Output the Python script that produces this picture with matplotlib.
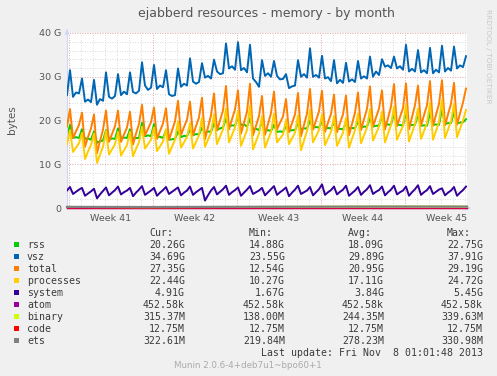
#!/usr/bin/env python3
"""Munin style chart: ejabberd memory usage over one month."""

import numpy as np
import matplotlib

matplotlib.use("Agg")
import matplotlib.pyplot as plt
from matplotlib.patches import Rectangle

# --- data (GB, four samples per day: before, spike, drop, mid) ---
rss = [
    16.2, 19.0, 16.0, 16.2, 16.0, 18.0, 15.8, 15.9, 15.6, 17.5, 14.9, 15.3, 15.4, 17.8, 15.6, 15.9,
    15.8, 18.2, 16.0, 16.1, 16.0, 18.0, 15.8, 16.0, 16.0, 19.5, 16.4, 16.6, 16.4, 19.2, 16.2, 16.3,
    16.0, 17.8, 15.6, 15.7, 15.8, 17.5, 16.2, 16.5, 16.4, 18.0, 16.6, 16.9, 16.8, 18.4, 17.2, 17.5,
    17.4, 19.4, 17.8, 18.2, 18.4, 20.4, 18.6, 18.9, 18.8, 21.0, 19.0, 19.1, 18.6, 20.4, 18.0, 18.1,
    17.8, 19.8, 17.6, 17.8, 17.6, 19.0, 17.4, 17.5, 17.4, 18.8, 17.6, 17.8, 17.8, 19.4, 18.0, 18.2,
    18.2, 20.0, 18.4, 18.5, 18.4, 19.8, 18.2, 18.3, 18.2, 19.6, 18.0, 18.1, 18.0, 19.4, 18.2, 18.3,
    18.2, 19.8, 18.4, 18.6, 18.6, 20.6, 18.6, 18.8, 18.8, 21.0, 19.0, 19.1, 19.0, 21.6, 19.0, 19.0,
    18.8, 22.0, 18.8, 19.0, 19.0, 21.4, 18.8, 18.9, 18.8, 21.8, 19.0, 19.1, 19.0, 22.7, 19.2, 19.4,
    19.4, 22.0, 19.4, 19.5, 19.6, 20.3,
]
vsz = [
    25.8, 31.5, 25.4, 26.4, 26.2, 29.6, 24.3, 24.8, 24.2, 29.3, 23.6, 24.9, 24.5, 31.0, 25.4, 25.0,
    25.6, 30.6, 25.8, 26.6, 26.0, 31.0, 26.5, 26.2, 26.8, 33.3, 28.0, 27.0, 27.5, 32.7, 27.2, 28.0,
    27.6, 31.5, 26.0, 25.6, 25.8, 31.9, 27.7, 28.4, 28.0, 34.2, 28.9, 28.4, 28.8, 33.1, 29.8, 30.2,
    29.6, 33.9, 31.2, 30.6, 30.8, 37.6, 31.9, 32.4, 31.6, 37.9, 31.5, 32.0, 31.0, 37.3, 29.6, 28.8,
    27.7, 33.8, 30.2, 30.8, 30.0, 33.6, 30.2, 29.4, 29.5, 30.6, 27.4, 27.8, 28.0, 33.8, 30.0, 30.6,
    29.8, 36.5, 30.0, 30.4, 29.8, 34.8, 29.6, 29.9, 29.0, 33.8, 28.5, 29.3, 28.6, 33.2, 28.9, 29.4,
    28.8, 33.6, 29.6, 30.1, 29.6, 34.6, 30.0, 31.2, 30.4, 34.0, 32.3, 32.6, 32.0, 34.6, 31.9, 32.4,
    31.6, 37.3, 31.2, 31.8, 31.2, 36.1, 31.0, 31.5, 30.8, 36.6, 30.8, 31.6, 31.0, 37.1, 31.2, 32.0,
    31.4, 36.9, 31.9, 32.6, 32.2, 34.7,
]
total = [
    18.6, 22.6, 16.0, 17.5, 19.0, 21.8, 14.0, 16.2, 18.2, 21.4, 12.5, 15.3, 17.9, 22.3, 15.1, 16.9,
    18.7, 22.3, 15.1, 16.8, 18.4, 22.0, 14.5, 17.0, 19.2, 23.6, 16.6, 18.1, 19.6, 23.0, 15.8, 17.6,
    19.3, 22.8, 15.6, 17.7, 19.8, 24.5, 16.7, 18.5, 20.2, 24.3, 16.6, 18.7, 20.7, 25.2, 15.7, 18.5,
    21.2, 26.2, 17.7, 20.0, 22.3, 27.9, 18.0, 20.3, 22.5, 26.9, 17.0, 19.5, 22.0, 28.4, 16.6, 18.8,
    21.0, 25.6, 16.7, 19.2, 21.7, 26.6, 18.0, 19.5, 20.9, 24.9, 17.3, 19.4, 21.4, 26.3, 16.4, 19.0,
    21.6, 27.2, 17.9, 20.0, 22.1, 26.8, 17.4, 19.5, 21.5, 25.9, 17.3, 19.4, 21.4, 25.7, 16.6, 19.2,
    21.8, 26.4, 17.8, 20.3, 22.7, 27.8, 18.6, 20.7, 22.7, 26.9, 17.9, 20.6, 23.2, 28.3, 18.7, 20.8,
    22.8, 28.5, 18.0, 20.8, 23.5, 28.0, 18.8, 21.2, 23.5, 29.0, 18.8, 21.3, 23.8, 29.2, 18.9, 21.4,
    23.8, 28.6, 19.0, 21.6, 24.1, 27.3,
]
processes = [
    14.6, 17.8, 12.8, 13.8, 14.8, 17.2, 11.2, 12.9, 14.4, 17.0, 10.3, 12.2, 14.0, 17.6, 12.2, 13.4,
    14.6, 17.4, 12.0, 13.2, 14.4, 17.4, 11.8, 13.5, 15.0, 18.6, 13.6, 14.6, 15.6, 18.4, 13.0, 14.1,
    15.2, 18.0, 12.4, 14.0, 15.6, 19.8, 13.8, 15.0, 16.2, 19.4, 13.6, 15.1, 16.6, 20.6, 14.0, 15.6,
    17.2, 21.4, 14.6, 16.3, 18.0, 22.8, 15.0, 16.7, 18.4, 22.2, 14.2, 16.0, 17.8, 23.4, 13.4, 15.2,
    17.0, 21.0, 13.8, 15.6, 17.4, 21.6, 15.0, 15.9, 16.8, 20.2, 14.6, 15.9, 17.2, 21.2, 13.2, 15.4,
    17.6, 22.4, 15.0, 16.4, 17.8, 21.4, 14.4, 15.9, 17.4, 21.0, 14.2, 15.7, 17.2, 20.6, 13.8, 15.8,
    17.8, 21.6, 14.8, 16.6, 18.4, 22.6, 15.4, 17.0, 18.6, 22.0, 15.0, 17.0, 19.0, 23.2, 15.6, 17.2,
    18.8, 23.6, 15.2, 17.2, 19.2, 22.8, 15.8, 17.6, 19.4, 24.0, 15.6, 17.6, 19.6, 24.7, 16.0, 17.9,
    19.8, 23.8, 16.2, 18.1, 20.0, 22.4,
]
system = [
    4.0, 4.8, 3.2, 3.7, 4.2, 4.6, 2.8, 3.3, 3.8, 4.4, 2.2, 3.1, 3.9, 4.7, 2.9, 3.5,
    4.1, 4.9, 3.1, 3.6, 4.0, 4.6, 2.7, 3.5, 4.2, 5.0, 3.0, 3.5, 4.0, 4.6, 2.8, 3.5,
    4.1, 4.8, 3.2, 3.7, 4.2, 4.7, 2.9, 3.5, 4.0, 4.9, 3.0, 3.6, 4.1, 4.6, 1.7, 2.9,
    4.0, 4.8, 3.1, 3.7, 4.3, 5.1, 3.0, 3.6, 4.1, 4.7, 2.8, 3.5, 4.2, 5.0, 3.2, 3.6,
    4.0, 4.6, 2.9, 3.6, 4.3, 5.0, 3.0, 3.6, 4.1, 4.7, 2.7, 3.5, 4.2, 5.1, 3.2, 3.6,
    4.0, 4.8, 2.9, 3.6, 4.3, 5.4, 3.0, 3.6, 4.1, 4.9, 3.1, 3.7, 4.2, 5.1, 2.8, 3.4,
    4.0, 4.8, 3.0, 3.7, 4.3, 5.2, 3.2, 3.7, 4.1, 4.9, 2.9, 3.6, 4.2, 5.1, 3.1, 3.6,
    4.0, 4.9, 2.8, 3.6, 4.3, 5.2, 3.0, 3.6, 4.1, 5.0, 3.2, 3.7, 4.2, 4.5, 2.9, 3.5,
    4.0, 4.8, 2.8, 3.5, 4.1, 4.9,
]
# small series, sampled roughly weekly (GB)
atom = [0.00045, 0.00045]
binary = [0.24, 0.14, 0.22, 0.28, 0.34, 0.32]
code = [0.01275, 0.01275]
ets = [0.26, 0.22, 0.27, 0.30, 0.33, 0.32]

names = ["rss", "vsz", "total", "processes", "system", "atom", "binary", "code", "ets"]
colors = ["#00CC00", "#0066B3", "#FF8000", "#FFCC00", "#330099",
          "#990099", "#CCFF00", "#FF0000", "#808080"]
cur = ["20.26G", "34.69G", "27.35G", "22.44G", "4.91G", "452.58k", "315.37M", "12.75M", "322.61M"]
vmin = ["14.88G", "23.55G", "12.54G", "10.27G", "1.67G", "452.58k", "138.00M", "12.75M", "219.84M"]
vavg = ["18.09G", "29.89G", "20.95G", "17.11G", "3.84G", "452.58k", "244.35M", "12.75M", "278.23M"]
vmax = ["22.75G", "37.91G", "29.19G", "24.72G", "5.45G", "452.58k", "339.63M", "12.75M", "330.98M"]
week_labels = ["Week 41", "Week 42", "Week 43", "Week 44", "Week 45"]

SAMPLES_PER_DAY = 4
SPAN_DAYS = 100 / 3
FIRST_WEEK = 4 / 24  # offset of first week boundary from graph start (days)

W, H = 497, 376
BACK = "#F0F0F0"
FONT = "#555555"


def fx(px):
    return px / W


def fy(py):
    return 1 - py / H


fig = plt.figure(figsize=(W / 100, H / 100), dpi=100, facecolor=BACK)
ax = fig.add_axes([fx(67), fy(208), 400 / W, 175 / H], facecolor="white")
ax.set_xlim(0, SPAN_DAYS)
ax.set_ylim(0, 40)

# grid
for d in np.arange(FIRST_WEEK, SPAN_DAYS, 1.0):
    ax.axvline(d, color="#cfcfcf", lw=0.6, ls=(0, (1, 2)), zorder=0)
for v in range(2, 41, 2):
    ax.axhline(v, color="#cfcfcf", lw=0.6, ls=(0, (1, 2)), zorder=0)
for d in np.arange(FIRST_WEEK, SPAN_DAYS, 7.0):
    ax.axvline(d, color="#f0a0a0", lw=0.6, ls=(0, (1, 2)), zorder=0.5)
for v in range(10, 41, 10):
    ax.axhline(v, color="#f0a0a0", lw=0.6, ls=(0, (1, 2)), zorder=0.5)

t = np.arange(len(rss)) / SAMPLES_PER_DAY
big = [rss, vsz, total, processes, system]
small = [atom, binary, code, ets]
for i, series in enumerate(big):
    ax.plot(t, series, color=colors[i], lw=1.4, zorder=2 + i)
small_lw = [1.0, 1.4, 0.9, 1.6]
for j, series in enumerate(small):
    xs = np.linspace(0, SPAN_DAYS, len(series))
    ax.plot(xs, series, color=colors[5 + j], lw=small_lw[j], zorder=8 + j,
            clip_on=False, alpha=0.6 if names[5 + j] == "code" else 1.0)

for s in ["top", "right"]:
    ax.spines[s].set_visible(False)
for s in ["left", "bottom"]:
    ax.spines[s].set_color("#CFD6F8")
    ax.spines[s].set_linewidth(0.8)
ax.annotate("", xy=(0, 1.035), xytext=(0, 1.0), xycoords="axes fraction",
            arrowprops=dict(arrowstyle="-|>", color="#CFD6F8", lw=0.8, mutation_scale=6))
ax.annotate("", xy=(1.015, 0), xytext=(1.0, 0), xycoords="axes fraction",
            arrowprops=dict(arrowstyle="-|>", color="#CFD6F8", lw=0.8, mutation_scale=6))

ax.set_yticks([0, 10, 20, 30, 40])
ax.set_yticklabels(["0", "10 G", "20 G", "30 G", "40 G"])
centers = FIRST_WEEK + 3.5 + 7 * np.arange(len(week_labels))
ax.set_xticks(centers)
ax.set_xticklabels(week_labels)
ax.tick_params(axis="both", length=0, labelsize=6.8, colors=FONT, pad=4)

fig.text(fx(266), fy(14), "ejabberd resources - memory - by month",
         ha="center", va="center", fontsize=9, color=FONT)
fig.text(fx(12), fy(120), "bytes", rotation=90, ha="center", va="center",
         fontsize=7.5, color=FONT)
fig.text(fx(488), fy(56), "RRDTOOL / TOBI OETIKER", rotation=270, ha="center",
         va="center", fontsize=5.3, color="#c8c8c8")

# legend
mono = dict(family="DejaVu Sans Mono", fontsize=7.1, color="#3a3a3a", va="center")
for x, head in zip([149, 249, 348, 447], ["Cur:", "Min:", "Avg:", "Max:"]):
    fig.text(fx(x), fy(233.5), head, ha="left", **mono)
for i, name in enumerate(names):
    yc = 244.5 + 12 * i
    fig.add_artist(Rectangle((fx(14), fy(yc + 2.5)), 5 / W, 5 / H,
                             transform=fig.transFigure, color=colors[i], lw=0))
    fig.text(fx(27), fy(yc), name, ha="left", **mono)
    for x, col in zip([185, 285, 384, 483], [cur, vmin, vavg, vmax]):
        fig.text(fx(x), fy(yc), col[i], ha="right", **mono)
fig.text(fx(483), fy(353), "Last update: Fri Nov  8 01:01:48 2013", ha="right", **mono)
fig.text(fx(248), fy(365.5), "Munin 2.0.6-4+deb7u1~bpo60+1", ha="center",
         va="center", fontsize=6.3, color="#aaaaaa")

fig.savefig("out.png", dpi=100, facecolor=BACK)
